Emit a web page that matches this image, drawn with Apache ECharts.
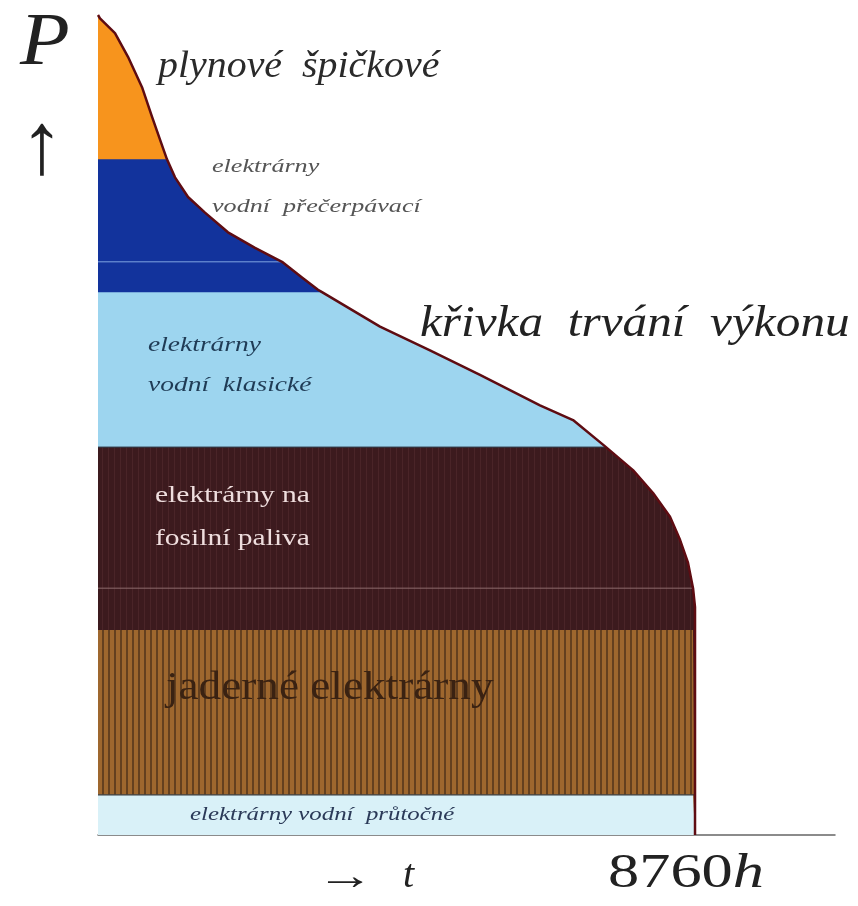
<!DOCTYPE html>
<html>
<head>
<meta charset="utf-8">
<script src="https://cdn.jsdelivr.net/npm/echarts@6/dist/echarts.min.js"></script>
<style>
html,body{margin:0;padding:0;background:#fff;}
#chart{width:858px;height:906px;}
</style>
</head>
<body>
<div id="chart"></div>
<script>
// Load duration curve: time (h) vs power P (relative, 0..100)
var curveT = [0, 29, 249, 440, 646, 792, 910, 1012, 1130, 1321, 1570, 1907, 2304, 2700, 2993, 3228, 3287, 4138, 4871, 5605, 6485, 6970, 7454, 7850, 8144, 8393, 8540, 8657, 8731, 8760, 8760];
var curveP = [100, 99.6, 97.8, 94.9, 91.2, 87.6, 84.8, 82.4, 80.2, 77.8, 75.9, 73.5, 71.6, 69.9, 68.0, 66.5, 66.2, 62.0, 59.1, 56.1, 52.4, 50.6, 47.3, 44.5, 41.7, 38.8, 36.0, 33.2, 30.1, 27.8, 25.0];

// bands, top to bottom: upper boundary of each band
var bandNames = ['plynové špičkové', 'elektrárny vodní přečerpávací', 'elektrárny vodní klasické', 'elektrárny na fosilní paliva', 'jaderné elektrárny', 'elektrárny vodní průtočné'];
var bandHi = [100, 82.4, 66.2, 47.3, 25.0, 4.9];

// faint internal lines
var pumpedLineP = 69.9, pumpedLineEnd = 2700;
var fossilLineP = 30.1, fossilLineEnd = 8731;

var yearHours = 8760;

function stripePattern(w, base, stripe, sw) {
  var c = document.createElement('canvas');
  c.width = w; c.height = 4;
  var ctx = c.getContext('2d');
  ctx.fillStyle = base; ctx.fillRect(0, 0, w, 4);
  ctx.fillStyle = stripe; ctx.fillRect(0, 0, sw, 4);
  return c;
}

var bandColors = [
  '#f7941d',
  '#12339c',
  '#9dd5ef',
  {image: stripePattern(6, '#3c1a1e', '#4a2428', 1), repeat: 'repeat'},
  {image: stripePattern(6, '#9e672e', '#64401f', 2), repeat: 'repeat'},
  '#d9f1f8'
];
var bandLines = [
  {width: 0},
  {width: 0},
  {width: 0},
  {width: 1, color: '#22202c'},
  {width: 0},
  {width: 1.2, color: '#3a3a3a'}
];

var series = [];
for (var i = 0; i < bandHi.length; i++) {
  var d = [];
  for (var k = 0; k < curveT.length; k++) {
    d.push([curveT[k], Math.min(curveP[k], bandHi[i])]);
  }
  series.push({
    name: bandNames[i],
    type: 'line',
    symbol: 'none',
    silent: true,
    data: d,
    lineStyle: bandLines[i],
    areaStyle: {color: bandColors[i], opacity: 1},
    z: 2
  });
}

series.push({
  type: 'line', symbol: 'none', silent: true,
  data: [[0, pumpedLineP], [pumpedLineEnd, pumpedLineP]],
  lineStyle: {width: 1, color: '#7fa4e0'}, z: 3
});
series.push({
  type: 'line', symbol: 'none', silent: true,
  data: [[0, fossilLineP], [fossilLineEnd, fossilLineP]],
  lineStyle: {width: 1, color: '#8c6a6c'}, z: 3
});

var outline = [];
for (var k = 0; k < curveT.length; k++) outline.push([curveT[k], curveP[k]]);
outline.push([yearHours, 0]);
series.push({
  type: 'line', symbol: 'none', silent: true,
  data: outline,
  lineStyle: {width: 2.5, color: '#5e0c12', join: 'round'}, z: 5
});

var serif = '"Liberation Serif", "DejaVu Serif", serif';
function txt(x, y, s, size, color, italic, sx) {
  return {type: 'text', x: x, y: y, scaleX: sx || 1, z: 10, silent: true,
    style: {text: s, font: (italic ? 'italic ' : '') + size + 'px ' + serif, fill: color,
      align: 'left', verticalAlign: 'top'}};
}

var chart = echarts.init(document.getElementById('chart'));
chart.setOption({
  animation: false,
  backgroundColor: '#fff',
  grid: {left: 98, right: 23, top: 15, bottom: 71},
  xAxis: {
    type: 'value', min: 0, max: 10814,
    axisLine: {show: true, lineStyle: {color: '#666', width: 1.5}},
    axisTick: {show: false}, axisLabel: {show: false}, splitLine: {show: false}
  },
  yAxis: {
    type: 'value', min: 0, max: 100,
    axisLine: {show: false}, axisTick: {show: false}, axisLabel: {show: false}, splitLine: {show: false}
  },
  series: series,
  graphic: [
    txt(20, 8, 'P', 74, '#222', true, 1.1),
    txt(20, 106, '↑', 88, '#222', false, 1.0),
    txt(158, 48, 'plynové  špičkové', 38, '#2a2a2a', true, 1.05),
    txt(212, 158, 'elektrárny', 18, '#555', true, 1.45),
    txt(212, 198, 'vodní  přečerpávací', 18, '#555', true, 1.45),
    txt(420, 302, 'křivka  trvání  výkonu', 44, '#222', true, 1.12),
    txt(148, 334, 'elektrárny', 22, '#1f3b55', true, 1.25),
    txt(148, 374, 'vodní  klasické', 22, '#1f3b55', true, 1.25),
    txt(155, 484, 'elektrárny na', 24, '#efdede', false, 1.23),
    txt(155, 527, 'fosilní paliva', 24, '#efdede', false, 1.23),
    txt(166, 668, 'jaderné elektrárny', 40, '#3a2212', false, 1.13),
    txt(190, 806, 'elektrárny vodní  průtočné', 18, '#2b3a58', true, 1.38),
    txt(316, 858, '→', 40, '#222', false, 1.45),
    txt(403, 856, 't', 40, '#222', true, 1.0),
    {type: 'text', x: 608, y: 850, scaleX: 1.3, z: 10, silent: true,
      style: {text: '8760{i|h}', font: '48px ' + serif, fill: '#222', align: 'left', verticalAlign: 'top',
        rich: {i: {font: 'italic 48px ' + serif, fill: '#222'}}}}
  ]
});
</script>
</body>
</html>
